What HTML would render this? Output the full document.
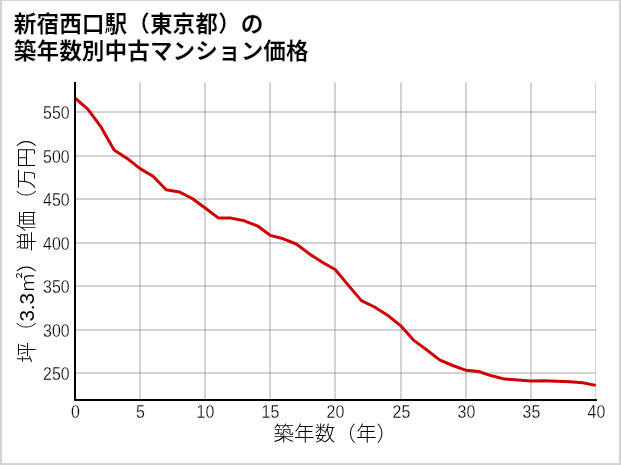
<!DOCTYPE html>
<html lang="ja">
<head>
<meta charset="utf-8">
<title>新宿西口駅（東京都）の築年数別中古マンション価格</title>
<style>
html,body{margin:0;padding:0;background:#fff;}
body{width:621px;height:465px;overflow:hidden;position:relative;}
svg{display:block;position:absolute;left:0;top:0;will-change:transform;}
text{font-family:"Liberation Sans", "Noto Sans CJK JP", sans-serif;}
.txt{opacity:0.999;}
.title{font-weight:700;font-size:22.7px;fill:#000;stroke:#fff;stroke-width:0.22px;}
.tick{font-weight:300;font-size:17.9px;fill:#000;stroke:#fff;stroke-width:0.25px;}
.axl{font-weight:300;font-size:20.6px;fill:#000;}
</style>
</head>
<body>
<svg width="621" height="465" viewBox="0 0 621 465">
<rect x="0" y="0" width="621" height="465" fill="#d3d3d3"/>
<rect x="2" y="1" width="617" height="462" fill="#ffffff"/>
<g class="txt">
<text class="title" x="13.8" y="31.6">新宿西口駅（東京都）の</text>
<text class="title" x="13.8" y="58.9">築年数別中古マンション価格</text>
<g stroke="#8c8c8c" stroke-opacity="0.385" stroke-width="2" fill="none">
<line x1="140" y1="82.5" x2="140" y2="400"/>
<line x1="205" y1="82.5" x2="205" y2="400"/>
<line x1="270" y1="82.5" x2="270" y2="400"/>
<line x1="335" y1="82.5" x2="335" y2="400"/>
<line x1="401" y1="82.5" x2="401" y2="400"/>
<line x1="466" y1="82.5" x2="466" y2="400"/>
<line x1="531" y1="82.5" x2="531" y2="400"/>
<line x1="595.5" y1="82.5" x2="595.5" y2="400" stroke-width="1"/>
<line x1="75" y1="373" x2="596" y2="373"/>
<line x1="75" y1="330" x2="596" y2="330"/>
<line x1="75" y1="286" x2="596" y2="286"/>
<line x1="75" y1="243" x2="596" y2="243"/>
<line x1="75" y1="199" x2="596" y2="199"/>
<line x1="75" y1="156" x2="596" y2="156"/>
<line x1="75" y1="112" x2="596" y2="112"/>
</g>
<polyline points="75.0,98.0 88.0,109.3 101.0,126.9 114.1,149.9 127.1,158.4 140.1,168.6 153.1,176.3 166.1,189.7 179.2,191.9 192.2,198.5 205.2,208.0 218.2,217.9 231.2,218.1 244.3,220.8 257.3,225.8 270.3,235.4 283.3,238.8 296.3,244.0 309.4,253.9 322.4,262.2 335.4,269.8 348.4,285.4 361.4,300.6 374.5,307.0 387.5,315.2 400.5,325.6 413.5,340.1 426.5,349.7 439.6,359.9 452.6,365.5 465.6,370.2 478.6,371.5 491.6,375.8 504.7,379.1 517.7,380.0 530.7,380.9 543.7,380.8 556.7,381.3 569.8,381.8 582.8,382.7 595.8,385.4" fill="none" stroke="#cc0000" stroke-width="3" stroke-linejoin="round" stroke-linecap="butt"/>
<line x1="75" y1="82" x2="75" y2="401" stroke="#000" stroke-width="2"/>
<line x1="74" y1="400" x2="597" y2="400" stroke="#000" stroke-width="2"/>
<text class="tick" text-anchor="middle" transform="translate(75.4,418.1) scale(0.89,1)">0</text>
<text class="tick" text-anchor="middle" transform="translate(140.4,418.1) scale(0.89,1)">5</text>
<text class="tick" text-anchor="middle" transform="translate(205.4,418.1) scale(0.89,1)">10</text>
<text class="tick" text-anchor="middle" transform="translate(270.4,418.1) scale(0.89,1)">15</text>
<text class="tick" text-anchor="middle" transform="translate(335.4,418.1) scale(0.89,1)">20</text>
<text class="tick" text-anchor="middle" transform="translate(401.4,418.1) scale(0.89,1)">25</text>
<text class="tick" text-anchor="middle" transform="translate(466.4,418.1) scale(0.89,1)">30</text>
<text class="tick" text-anchor="middle" transform="translate(531.4,418.1) scale(0.89,1)">35</text>
<text class="tick" text-anchor="middle" transform="translate(596.4,418.1) scale(0.89,1)">40</text>
<text class="tick" text-anchor="end" transform="translate(69.7,380.1) scale(0.89,1)">250</text>
<text class="tick" text-anchor="end" transform="translate(69.7,337.1) scale(0.89,1)">300</text>
<text class="tick" text-anchor="end" transform="translate(69.7,293.1) scale(0.89,1)">350</text>
<text class="tick" text-anchor="end" transform="translate(69.7,250.1) scale(0.89,1)">400</text>
<text class="tick" text-anchor="end" transform="translate(69.7,206.1) scale(0.89,1)">450</text>
<text class="tick" text-anchor="end" transform="translate(69.7,163.1) scale(0.89,1)">500</text>
<text class="tick" text-anchor="end" transform="translate(69.7,119.1) scale(0.89,1)">550</text>
<text class="axl" text-anchor="middle" x="335.3" y="440.7">築年数（年）</text>
<text class="axl" text-anchor="start" transform="translate(34.4,362.8) rotate(-90)">坪（3.3㎡）単<tspan letter-spacing="0.45">価（万円）</tspan></text>
</g>
</svg>
</body>
</html>
